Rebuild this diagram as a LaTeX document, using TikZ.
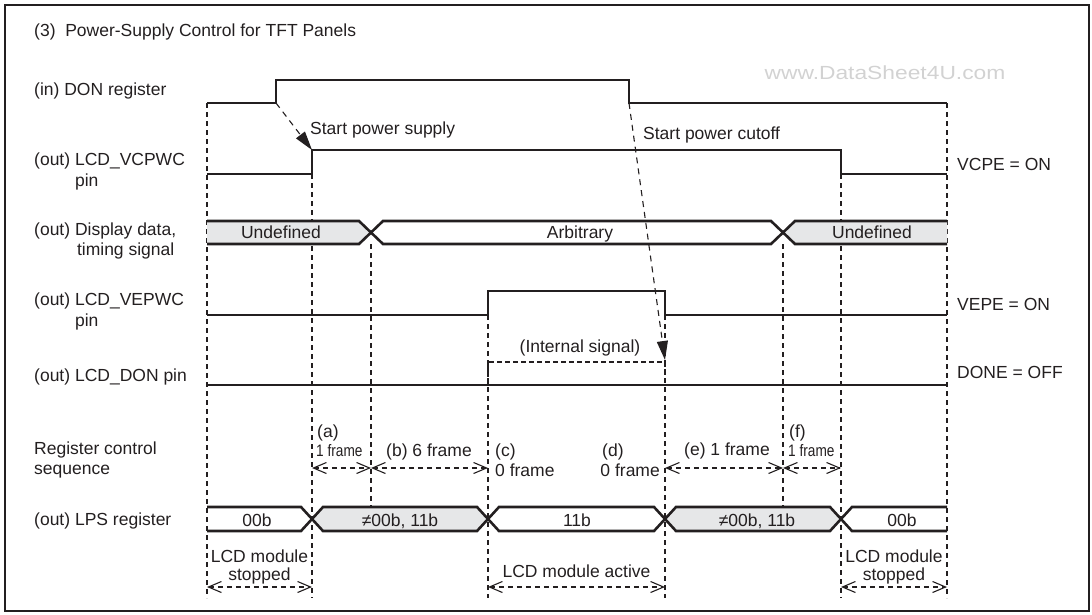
\documentclass[tikz,border=0pt]{standalone}
\usepackage{fontspec}
\setmainfont{Liberation Sans}
\usetikzlibrary{arrows.meta}
\definecolor{ink}{RGB}{35,31,32}
\definecolor{fillgray}{RGB}{230,231,232}
\begin{document}
\begin{tikzpicture}[x=1pt,y=-1pt,
  every node/.style={font=\fontsize{17.5}{20}\selectfont, text=ink, inner sep=0pt},
  sig/.style={line width=2.6pt, draw=ink, line join=miter},
  guide/.style={line width=1.1pt, draw=ink, dash pattern=on 5pt off 4pt},
  span/.style={line width=1.1pt, draw=ink, dash pattern=on 5pt off 4pt,
    {Straight Barb[length=13pt,width=11pt]}-{Straight Barb[length=13pt,width=11pt]}},
  cause/.style={line width=1.1pt, draw=ink, dash pattern=on 6pt off 5pt,
    -{Triangle[length=19pt,width=11pt]}},
  lbl/.style={anchor=base west},
  mid/.style={anchor=base},
  rgt/.style={anchor=base east},
  tiny/.style={anchor=base west}
]
\useasboundingbox (0,0) rectangle (1092,614);
\draw[line width=2.5pt, ink] (5,5) rectangle (1089,611);

% watermark
\node[text=gray!35] (wm) at (885,73) {\scalebox{1.2}[1]{\fontsize{19}{20}\selectfont www.DataSheet4U.com}};

% guide lines
\foreach \x/\a/\b in {207/103/598, 312/174/598, 371/244/507, 488/315/598,
                      665/315/598, 783/244/507, 841/174/598, 947/103/598}
  \draw[guide] (\x,\a) -- (\x,\b);

% fills
\fill[fillgray] (207,221) -- (359,221) -- (371,232.5) -- (359,244) -- (207,244) -- cycle;
\fill[fillgray] (783,232.5) -- (795,221) -- (947,221) -- (947,244) -- (795,244) -- cycle;
\fill[fillgray] (312,519) -- (323,507) -- (477,507) -- (488,519) -- (477,531) -- (323,531) -- cycle;
\fill[fillgray] (665,519) -- (676,507) -- (830,507) -- (841,519) -- (830,531) -- (676,531) -- cycle;

% signals
\draw[sig] (207,103) -- (276,103) -- (276,80) -- (629,80) -- (629,103) -- (947,103);
\draw[sig] (207,174) -- (312,174) -- (312,150) -- (841,150) -- (841,174) -- (947,174);
\draw[sig] (207,221) -- (359,221) -- (383,244) -- (771,244) -- (795,221) -- (947,221);
\draw[sig] (207,244) -- (359,244) -- (383,221) -- (771,221) -- (795,244) -- (947,244);
\draw[sig] (207,315) -- (488,315) -- (488,291) -- (665,291) -- (665,315) -- (947,315);
\draw[sig] (207,385) -- (947,385);
\draw[line width=2pt, draw=ink, dash pattern=on 5pt off 3pt] (488,385) -- (488,362) -- (665,362) -- (665,385);
\draw[sig] (207,507) -- (301,507) -- (323,531) -- (477,531) -- (499,507) -- (654,507) -- (676,531) -- (830,531) -- (852,507) -- (947,507);
\draw[sig] (207,531) -- (301,531) -- (323,507) -- (477,507) -- (499,531) -- (654,531) -- (676,507) -- (830,507) -- (852,531) -- (947,531);

% cause arrows
\coordinate (donup) at (276,103);
\coordinate (vcup) at (312,150);
\coordinate (dondown) at (629,103);
\coordinate (donint) at (665,360);
\draw[cause] (donup) -- (vcup);
\draw[cause] (dondown) -- (donint);

% span arrows
\coordinate (sa) at (312,468); \coordinate (sb) at (371,468); \coordinate (sc) at (488,468);
\coordinate (sd) at (665,468); \coordinate (se) at (783,468); \coordinate (sf) at (841,468);
\draw[span] (sa) -- (sb);
\draw[span] (sb) -- (sc);
\draw[span] (sd) -- (se);
\draw[span] (se) -- (sf);
\coordinate (ma) at (207,587); \coordinate (mb) at (312,587);
\coordinate (mc) at (488,587); \coordinate (md) at (665,587);
\coordinate (me) at (841,587); \coordinate (mf) at (947,587);
\draw[span] (ma) -- (mb);
\draw[span] (mc) -- (md);
\draw[span] (me) -- (mf);

% left labels
\node[lbl] (title) at (34,36) {(3)\ \ Power-Supply Control for TFT Panels};
\node[lbl] (lDON) at (34,95) {(in) DON register};
\node[lbl] (lVC) at (34,165) {(out) LCD\_VCPWC};
\node[lbl] (lVCb) at (34,186) {\phantom{(out) }pin};
\node[lbl] (lDD) at (34,235) {(out) Display data,};
\node[lbl] (lDDb) at (36,255) {\phantom{(out) }timing signal};
\node[lbl] (lVE) at (34,305) {(out) LCD\_VEPWC};
\node[lbl] (lVEb) at (34,326) {\phantom{(out) }pin};
\node[lbl] (lLD) at (34,381) {(out) LCD\_DON pin};
\node[lbl] (lRC) at (34,454) {Register control};
\node[lbl] (lRCb) at (34,474) {sequence};
\node[lbl] (lLPS) at (34,525) {(out) LPS register};

% right labels
\node[lbl] (rVC) at (957,170) {VCPE = ON};
\node[lbl] (rVE) at (957,310) {VEPE = ON};
\node[lbl] (rLD) at (957,378) {DONE = OFF};

% annotations
\node[lbl] (sps) at (310,134) {Start power supply};
\node[lbl] (spc) at (643,139) {Start power cutoff};
\node[mid] (ints) at (580,352) {(Internal signal)};

% data bus texts
\node[mid] (u1) at (281,238) {Undefined};
\node[mid] (arb) at (580,238) {Arbitrary};
\node[mid] (u2) at (872,238) {Undefined};

% LPS texts
\node[mid] (p1) at (257,526) {00b};
\node[mid] (p2) at (400,526) {≠00b, 11b};
\node[mid] (p3) at (577,526) {11b};
\node[mid] (p4) at (757,526) {≠00b, 11b};
\node[mid] (p5) at (902,526) {00b};

% sequence texts
\node[lbl] (ta) at (317,437) {(a)};
\node[tiny] (ta2) at (316,456) {\scalebox{0.78}[0.95]{1 frame}};
\node[mid] (tb) at (429,456) {(b) 6 frame};
\node[lbl] (tc) at (495,456) {(c)};
\node[lbl] (tc2) at (495,476) {0 frame};
\node[lbl] (td) at (602,456) {(d)};
\node[rgt] (td2) at (660,476) {0 frame};
\node[mid] (te) at (727,455) {(e) 1 frame};
\node[lbl] (tf) at (789,437) {(f)};
\node[tiny] (tf2) at (788,456) {\scalebox{0.78}[0.95]{1 frame}};

% module texts
\node[mid] (m1) at (259.5,562) {LCD module};
\node[mid] (m1b) at (259.5,580) {stopped};
\node[mid] (m2) at (576.5,577) {LCD module active};
\node[mid] (m3) at (894,562) {LCD module};
\node[mid] (m3b) at (894,580) {stopped};
\end{tikzpicture}
\end{document}
